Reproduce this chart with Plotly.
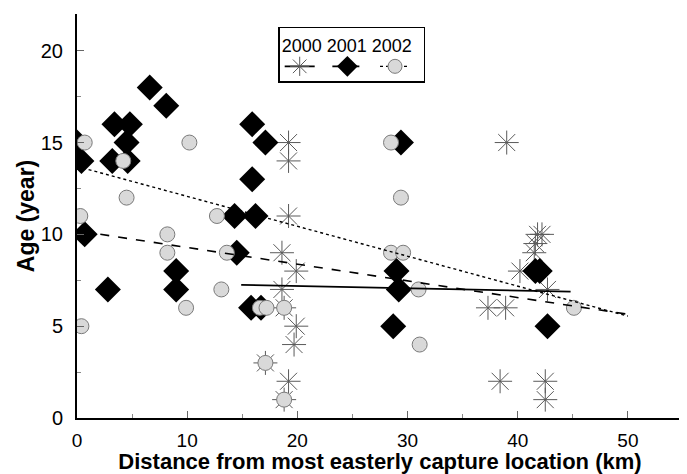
import plotly.graph_objects as go

# ---- data ----
x2000 = [19.2, 19.2, 19.2, 18.6, 19.9, 18.6, 19.9, 19.7, 19.2, 17.1, 18.8, 18.8,
         39.0, 41.8, 42.2, 41.6, 41.5, 40.2, 42.7, 37.3, 38.9, 38.4, 42.5, 42.5]
y2000 = [15, 14, 11, 9, 8, 7, 5, 4, 2, 3, 1, 6,
         15, 10, 10, 9.5, 9, 8, 7, 6, 6, 2, 2, 1]

x2001 = [0.0, 0.4, 0.7, 6.6, 8.1, 3.4, 4.8, 4.5, 3.2, 4.6, 9.0, 9.0, 2.8,
         15.9, 17.1, 15.9, 14.3, 16.2, 14.5, 15.8, 16.7,
         29.4, 29.0, 29.2, 28.7, 41.6, 42.0, 42.7]
y2001 = [15, 14, 10, 18, 17, 16, 16, 15, 14, 14, 8, 7, 7,
         16, 15, 13, 11, 11, 9, 6, 6,
         15, 8, 7, 5, 8, 8, 5]

x2002 = [0.7, 10.2, 4.5, 4.2, 0.3, 8.2, 8.2, 0.4, 12.7, 13.6, 13.1, 9.9,
         16.6, 17.2, 18.8, 17.1, 18.8, 28.5, 29.4, 28.5, 29.6, 31.0, 31.1, 45.1]
y2002 = [15, 15, 12, 14, 11, 10, 9, 5, 11, 9, 7, 6,
         6, 6, 6, 3, 1, 15, 12, 9, 9, 7, 4, 6]

# fitted trend lines (end points)
trend2000_x = [14.9, 44.8]
trend2000_y = [7.25, 6.88]
trend2001_x = [0.5, 50.0]
trend2001_y = [10.15, 5.65]
trend2002_x = [0.0, 50.0]
trend2002_y = [13.7, 5.55]

years = ["2000", "2001", "2002"]

FONT = "Liberation Sans, Arial, sans-serif"

star = dict(symbol="asterisk-open", size=20, color="#5a5a5a",
            line=dict(width=1, color="#5a5a5a"))
diamond = dict(symbol="diamond", size=20, color="black",
               line=dict(width=0, color="black"))
circle = dict(symbol="circle", size=15, color="#d9d9d9",
              line=dict(width=1, color="#7a7a7a"))

fig = go.Figure()

fig.add_trace(go.Scatter(x=x2000, y=y2000, mode="markers", marker=star,
                         showlegend=False, name=years[0]))
fig.add_trace(go.Scatter(x=x2001, y=y2001, mode="markers", marker=diamond,
                         showlegend=False, name=years[1]))
fig.add_trace(go.Scatter(x=x2002, y=y2002, mode="markers", marker=circle,
                         showlegend=False, name=years[2]))

legend_markers = [dict(star, size=16), dict(diamond, size=16), dict(circle, size=14)]
trend_sets = [(trend2000_x, trend2000_y, "solid", 1.6),
              (trend2001_x, trend2001_y, "dash", 1.6),
              (trend2002_x, trend2002_y, "dot", 1.4)]
for (tx, ty, dash, w), mk, yr in zip(trend_sets, legend_markers, years):
    fig.add_trace(go.Scatter(
        x=tx, y=ty, mode="lines+markers", name=yr,
        line=dict(color="black", width=w, dash=dash),
        marker=mk, selectedpoints=[],
        unselected=dict(marker=dict(opacity=0)),
    ))

axis_common = dict(
    showline=True, linecolor="black", linewidth=2, mirror=False,
    ticks="inside", ticklen=7, tickcolor="#666666", tickwidth=1,
    showgrid=False, zeroline=False, automargin=False,
)

fig.update_xaxes(
    range=[0, 55], tick0=0, dtick=10,
    minor=dict(ticks="inside", ticklen=4, dtick=5, tickcolor="#888888"),
    tickfont=dict(family=FONT, size=19, color="black"),
    ticklabelstandoff=4,
    title=dict(text="<b>Distance from most easterly capture location (km)</b>",
               font=dict(family=FONT, size=22, color="black"), standoff=2),
    **axis_common,
)
fig.update_yaxes(
    range=[0, 22], tick0=0, dtick=5,
    minor=dict(ticks="inside", ticklen=4, dtick=2.5, tickcolor="#888888"),
    tickfont=dict(family=FONT, size=20, color="black"),
    ticklabelstandoff=8,
    title=dict(text="<b>Age (year)</b>",
               font=dict(family=FONT, size=23, color="black"), standoff=0),
    **axis_common,
)

# the page body has an 8px margin, so the figure is sized/offset to compensate
fig.update_layout(
    width=679, height=466,
    margin=dict(l=69, r=4, t=6, b=56),
    paper_bgcolor="white", plot_bgcolor="white",
    font=dict(family=FONT, color="black"),
    legend=dict(
        orientation="h", x=0.332, y=0.968, xanchor="left", yanchor="top",
        bordercolor="black", borderwidth=1.5, bgcolor="white",
        font=dict(size=1, color="rgba(0,0,0,0)"),
        title=dict(text="2000 2001 2002", side="top",
                   font=dict(family=FONT, size=18, color="black")),
        itemwidth=30, itemsizing="trace",
    ),
)

fig.write_html("out.html")
